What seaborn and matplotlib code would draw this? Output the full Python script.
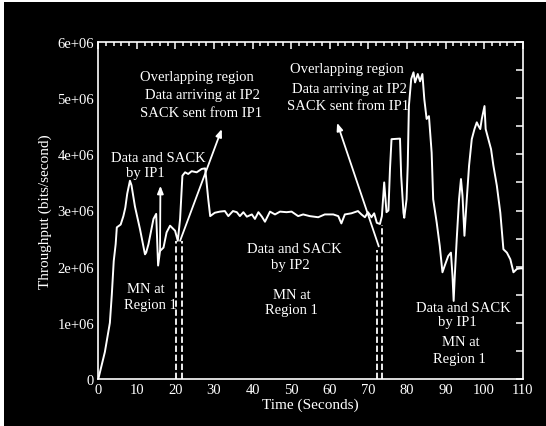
import matplotlib
matplotlib.use("Agg")
import matplotlib.pyplot as plt
import seaborn as sns
import pandas as pd
import numpy as np
from matplotlib.ticker import MultipleLocator, FixedLocator, FixedFormatter

# ---- data (time in seconds, throughput in units of 1e6 bits/s) ----
time_s = [0, 1.7, 3.0, 3.5, 4.0, 4.5, 4.8, 5.8, 6.5, 7.0, 7.5, 8.2, 8.6, 9.5, 10.8,
          12.1, 12.4, 13.0, 14.3, 15.0, 15.5, 16.0, 16.9, 17.7, 18.6, 19.9, 20.6,
          21.2, 21.8, 22.5, 23.3, 24.2, 25.5, 26.8, 27.7, 28.5, 29.0, 30.2,
          31.5, 32.8, 33.7, 34.9, 35.9, 36.7, 37.6, 38.5, 39.8, 40.6, 41.5, 42.4,
          43.2, 44.5, 45.8, 47.1, 48.8, 50.1, 51.8, 53.1, 54.8, 57.0, 58.7, 60.9,
          62.2, 63.0, 63.9, 65.6, 67.3, 68.2, 69.1, 69.9, 70.8, 71.5, 72.2, 73.0,
          73.5, 73.9, 74.1, 74.7, 75.2, 75.6, 76.0, 78.2, 78.5, 79.1, 79.3, 79.9,
          80.2, 80.5, 81.1, 81.7, 82.1, 82.8, 83.4, 84.0, 84.5, 85.1, 85.7, 86.4,
          86.8, 87.7, 88.5, 89.2, 89.8, 90.7, 91.4, 91.8, 92.1, 92.4, 92.9, 93.5,
          94.0, 94.4, 94.9, 95.5, 96.1, 96.8, 97.5, 98.1, 98.5, 99.0, 99.4, 100.1,
          100.4, 101.1, 101.8, 102.4, 103.3, 104.2, 105.0, 105.9, 106.8, 107.6,
          108.5, 109.4, 110.0]
throughput_m = [0, 0.48, 1.0, 1.5, 2.1, 2.4, 2.7, 2.75, 2.9, 3.05, 3.3, 3.53, 3.45, 3.07, 2.67,
                2.22, 2.25, 2.4, 2.85, 2.94, 2.02, 2.28, 2.34, 2.61, 2.73, 2.64, 2.46,
                2.85, 3.62, 3.68, 3.65, 3.7, 3.68, 3.74, 3.75, 3.2, 2.9, 2.96,
                2.98, 2.99, 2.90, 2.99, 2.97, 2.90, 2.97, 2.89, 2.93, 2.85, 2.97, 2.89,
                2.80, 2.98, 2.93, 2.98, 2.97, 2.98, 2.90, 2.93, 2.90, 2.88, 2.93, 2.93,
                2.90, 2.77, 2.93, 2.95, 2.99, 2.93, 2.88, 2.97, 2.88, 2.95, 2.78, 2.76,
                2.9, 3.32, 3.5, 2.97, 3.0, 3.74, 4.27, 4.28, 3.62, 2.96, 2.87, 3.2,
                3.8, 4.86, 5.34, 5.46, 5.28, 5.43, 5.3, 5.43, 4.98, 4.63, 4.68, 4.03,
                3.2, 2.79, 2.37, 1.90, 2.02, 2.19, 2.25, 1.84, 1.39, 1.84, 2.49, 3.2,
                3.56, 3.26, 2.55, 3.2, 3.8, 4.27, 4.45, 4.57, 4.51, 4.45, 4.63, 4.86,
                4.45, 4.27, 4.09, 3.8, 3.44, 2.96, 2.31, 2.25, 2.13, 1.90,
                1.96, 1.97, 1.97]

# handover markers (dashed verticals): x position, top value (1e6)
dash_x = [20.1, 21.6, 72.3, 73.5]
dash_top = [2.46, 2.46, 2.3, 2.75]

# arrows: (start x, start y) -> (tip x, tip y), values in 1e6
arrow_start = [(16.0, 2.28), (21.2, 2.46), (72.7, 2.36)]
arrow_tip = [(16.1, 3.44), (32.0, 4.45), (61.9, 4.56)]

xticks = [0, 10, 20, 30, 40, 50, 60, 70, 80, 90, 100, 110]
yticks = [0, 1e6, 2e6, 3e6, 4e6, 5e6, 6e6]
ytick_labels = ["0", "1e+06", "2e+06", "3e+06", "4e+06", "5e+06", "6e+06"]

# ---- style ----
sns.set_style("dark", {"axes.facecolor": "black", "figure.facecolor": "black"})
plt.rcParams["font.family"] = ["Liberation Serif", "DejaVu Serif"]
plt.rcParams["text.color"] = "white"

W, H = 546, 427
fig = plt.figure(figsize=(W / 100, H / 100), dpi=100, facecolor="black")
# white strips at top and left edges of the image
fig.patches.append(plt.Rectangle((0, 0), 4 / W, 1, transform=fig.transFigure,
                                 facecolor="white", edgecolor="none", zorder=-1))
fig.patches.append(plt.Rectangle((0, 1 - 3 / H), 1, 3 / H, transform=fig.transFigure,
                                 facecolor="white", edgecolor="none", zorder=-1))

l, r, t, b = 98.3, 522.7, 43, 380
ax = fig.add_axes([l / W, 1 - b / H, (r - l) / W, (b - t) / H])
ax.set_facecolor("black")

df = pd.DataFrame({"Time": time_s, "Throughput": np.array(throughput_m) * 1e6})
sns.lineplot(data=df, x="Time", y="Throughput", color="white", lw=1.4,
             estimator=None, ax=ax, legend=False)

for x, top in zip(dash_x, dash_top):
    ax.plot([x, x], [0, top * 1e6], color="white", lw=1.3, ls=(0, (3.5, 1.5)))

for (sx, sy), (tx, ty) in zip(arrow_start, arrow_tip):
    ax.annotate("", xy=(tx, ty * 1e6), xytext=(sx, sy * 1e6),
                arrowprops=dict(arrowstyle="-|>,head_length=0.45,head_width=0.18",
                                color="white", lw=1.3, shrinkA=0, shrinkB=0))

ax.set_xlim(0, 110)
ax.set_ylim(0, 6e6)
ax.xaxis.set_major_locator(FixedLocator(xticks))
ax.xaxis.set_minor_locator(MultipleLocator(2))
ax.yaxis.set_major_locator(FixedLocator(yticks))
ax.yaxis.set_major_formatter(FixedFormatter(ytick_labels))
ax.yaxis.set_minor_locator(MultipleLocator(5e5))
ax.tick_params(which="both", direction="in", colors="white", top=True, right=True,
               labelsize=10.5, width=1.1, pad=3)
ax.tick_params(which="major", length=5)
ax.tick_params(which="minor", length=3)
ax.tick_params(axis="y", which="minor", length=5)
for s in ax.spines.values():
    s.set_color("white")
    s.set_linewidth(1.2)
    s.set_visible(True)
ax.grid(False)

ax.set_xlabel("Time (Seconds)", color="white", fontsize=11, labelpad=1)
ax.set_ylabel("Throughput (bits/second)", color="white", fontsize=11, labelpad=4)

fs = 10.5
texts = [
    ("Overlapping region", 25.5, 5.39), ("Data arriving at IP2", 27.1, 5.07),
    ("SACK sent from IP1", 26.6, 4.75),
    ("Overlapping region", 64.5, 5.53), ("Data arriving at IP2", 65.2, 5.18),
    ("SACK sent from IP1", 64.7, 4.87),
    ("Data and SACK", 15.5, 3.94), ("by IP1", 12.1, 3.68),
    ("MN at", 12.3, 1.61), ("Region 1", 13.4, 1.32),
    ("Data and SACK", 50.7, 2.33), ("by IP2", 49.7, 2.03),
    ("MN at", 50.2, 1.51), ("Region 1", 50.1, 1.23),
    ("Data and SACK", 94.6, 1.28), ("by IP1", 93.1, 1.02),
    ("MN at", 94.0, 0.66), ("Region 1", 93.5, 0.37),
]
for s, x, y in texts:
    ax.text(x, y * 1e6, s, ha="center", va="center", fontsize=fs, color="white")

fig.savefig("out.png", dpi=100, facecolor="black")
